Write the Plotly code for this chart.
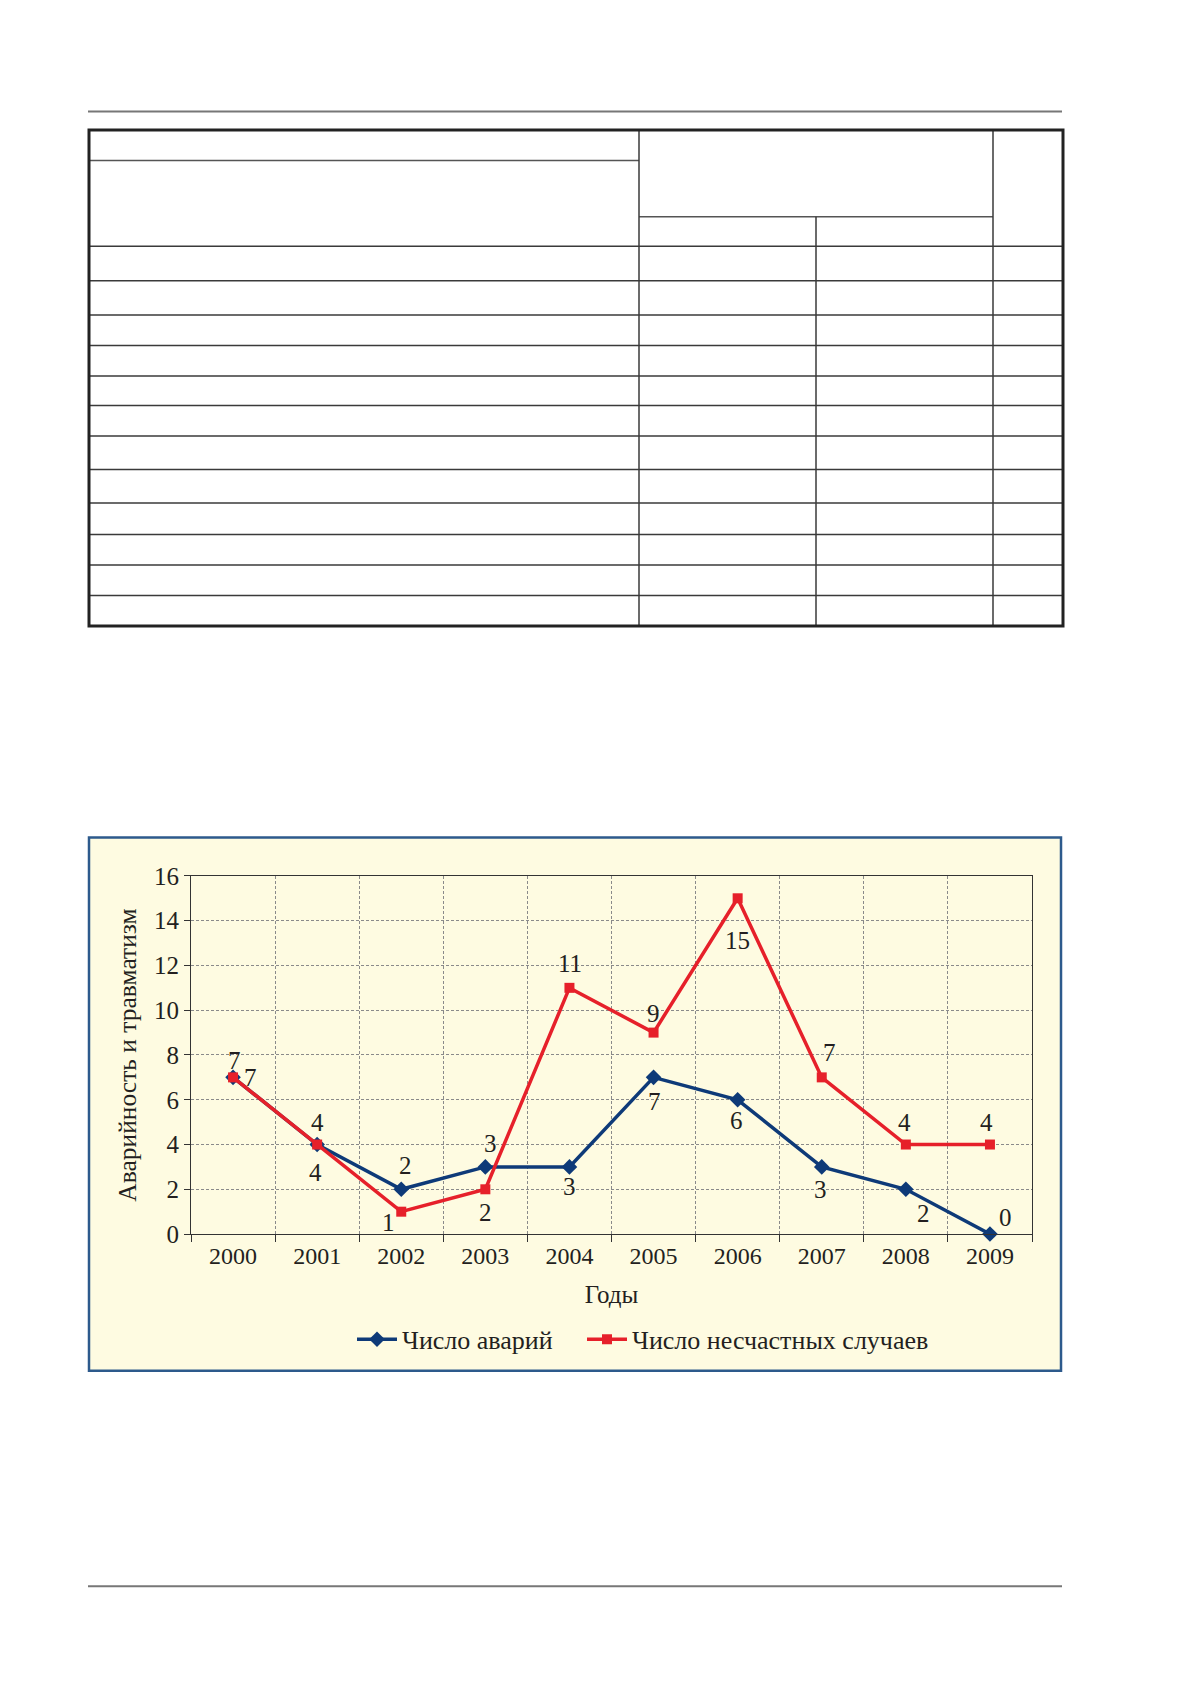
import plotly.graph_objects as go

W, H = 1179, 1681

years = ["2000", "2001", "2002", "2003", "2004", "2005", "2006", "2007", "2008", "2009"]
accidents = [7, 4, 2, 3, 3, 7, 6, 3, 2, 0]
injuries = [7, 4, 1, 2, 11, 9, 15, 7, 4, 4]
# label offsets in pixels (dx right, dy down) relative to each point
acc_dx = [17, 0, 4, 5, 0, 1, -1, -1, 18, 16]
acc_dy = [0, -22, -24, -23, 20, 24, 21, 23, 24, -17]
inj_dx = [1, -2, -13, 0, 1, 0, 0, 8, -1, -3]
inj_dy = [-17, 28, 11, 23, -24, -19, 42, -25, -22, -22]

series_names = ["Число аварий", "Число несчастных случаев"]
x_title = "Годы"
y_title = "Аварийность и травматизм"

NAVY = "#0e3a78"
RED = "#e6202a"
CREAM = "#fefbe1"
FONT = "Liberation Serif"
TXT = "#231f20"
FS = 24


def px(x):
    return x / W


def py(y):
    return 1 - y / H


shapes = []


def line(x0, y0, x1, y1, color="#3a3a3a", width=1.5):
    shapes.append(dict(type="line", xref="paper", yref="paper",
                       x0=px(x0), y0=py(y0), x1=px(x1), y1=py(y1),
                       line=dict(color=color, width=width), layer="below"))


# chart frame
shapes.append(dict(type="rect", xref="paper", yref="paper",
                   x0=px(89), y0=py(1380), x1=px(1061), y1=py(838),
                   fillcolor=CREAM, line=dict(color="#2d5a8c", width=2.5),
                   layer="below"))

# page rules
line(88, 100, 1062, 100, color="#777777", width=2)
line(88, 1599, 1062, 1599, color="#777777", width=2)

# table (empty grid)
TL, TR, TT, TB = 89, 1063, 119, 623
C1, C2, C3 = 639, 816, 993
line(TL, 150, C1, 150, color="#555555")
line(C1, 207, C3, 207, color="#555555")
for r in [237, 272, 307, 338, 369, 399, 430, 464, 498, 530, 561, 592]:
    line(TL, r, TR, r)
line(C1, TT, C1, TB)
line(C3, TT, C3, TB)
line(C2, 207, C2, TB)
shapes.append(dict(type="rect", xref="paper", yref="paper",
                   x0=px(TL), y0=py(TB), x1=px(TR), y1=py(TT),
                   line=dict(color="#222222", width=3), layer="below"))

fig = go.Figure()
fig.add_trace(go.Scatter(
    x=years, y=accidents, name=series_names[0], mode="lines+markers",
    line=dict(color=NAVY, width=3.5),
    marker=dict(symbol="diamond", size=12, color=NAVY),
    cliponaxis=False, legend="legend"))
fig.add_trace(go.Scatter(
    x=years, y=injuries, name=series_names[1], mode="lines+markers",
    line=dict(color=RED, width=3.5),
    marker=dict(symbol="square", size=10, color=RED),
    cliponaxis=False, legend="legend2"))

annotations = []
for vals, dxs, dys in [(accidents, acc_dx, acc_dy), (injuries, inj_dx, inj_dy)]:
    for i, (v, dx, dy) in enumerate(zip(vals, dxs, dys)):
        # category axis: annotation x given as the category index
        annotations.append(dict(x=i, y=v, xref="x", yref="y", text=str(v),
                                showarrow=False, xshift=dx, yshift=-dy,
                                font=dict(family=FONT, size=25, color=TXT)))

leg_common = dict(orientation="h", yanchor="middle", xanchor="left",
                  bgcolor="rgba(0,0,0,0)", font=dict(family=FONT, size=26, color=TXT),
                  itemwidth=40)

fig.update_layout(
    width=W, height=H,
    margin=dict(l=0, r=0, t=0, b=0),
    paper_bgcolor="white", plot_bgcolor="rgba(0,0,0,0)",
    font=dict(family=FONT, size=FS, color=TXT),
    shapes=shapes,
    annotations=annotations,
    showlegend=True,
    legend=dict(x=px(352), y=py(1348), **leg_common),
    legend2=dict(x=px(582), y=py(1348), **leg_common),
    xaxis=dict(domain=[px(191), px(1032)], type="category", range=[-0.5, 9.5],
               tickson="boundaries", ticks="outside", ticklen=7, tickcolor="#333",
               showline=True, linecolor="#333", linewidth=1.2, mirror=True,
               showgrid=True, gridcolor="#8a8a8a", gridwidth=1, griddash="3px,2px",
               tickfont=dict(size=FS),
               title=dict(text=x_title, standoff=17, font=dict(size=25))),
    yaxis=dict(domain=[py(1241), py(877)], range=[0, 16], dtick=2,
               ticks="outside", ticklen=6, tickcolor="#333",
               showline=True, linecolor="#333", linewidth=1.2, mirror=True,
               showgrid=True, gridcolor="#8a8a8a", gridwidth=1, griddash="3px,2px",
               zeroline=False, tickfont=dict(size=25),
               title=dict(text=y_title, standoff=9, font=dict(size=25.5))),
)

fig.write_html("out.html", config={"displayModeBar": False},
               post_script="document.body.style.margin='0';")
